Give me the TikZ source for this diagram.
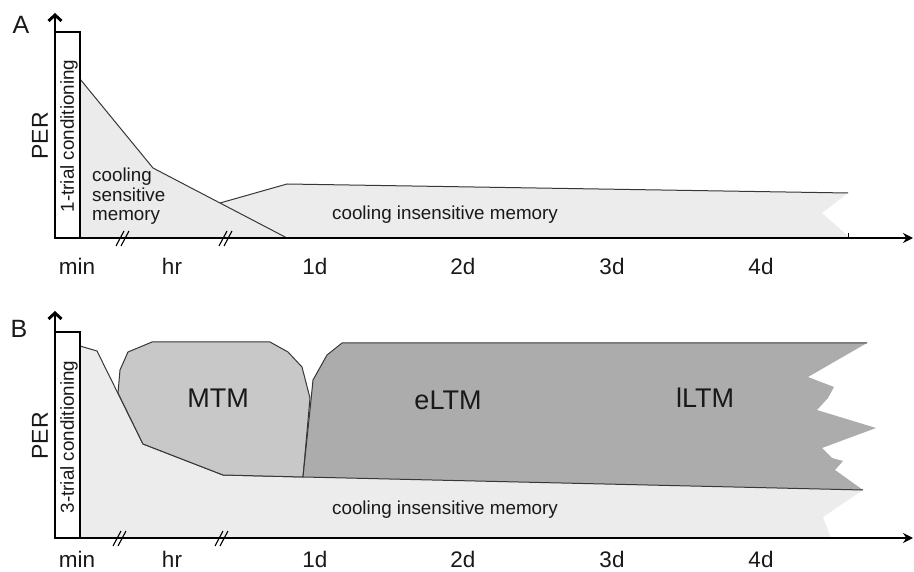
\documentclass[tikz,border=0pt]{standalone}
\usepackage{fontspec}
\setmainfont{Liberation Sans}
\usetikzlibrary{arrows.meta,patterns}
\definecolor{lightfill}{RGB}{236,236,236}
\definecolor{mtmfill}{RGB}{200,200,200}
\definecolor{ltmfill}{RGB}{172,172,172}
\definecolor{edgecol}{RGB}{55,55,55}
\definecolor{txtcol}{RGB}{25,25,25}
\begin{document}
\begin{tikzpicture}[x=1pt,y=-1pt,
  edge/.style={draw=edgecol,line width=1pt,line join=round},
  axisline/.style={line width=2.9pt,draw=black},
  condbox/.style={draw=black,line width=2.3pt,fill=white},
  lbl/.style={text=txtcol,font=\fontsize{18.8}{21}\selectfont,inner sep=0pt},
  ticklbl/.style={text=txtcol,font=\fontsize{22.5}{24}\selectfont,inner sep=0pt},
  biglbl/.style={text=txtcol,font=\fontsize{27}{29}\selectfont,inner sep=0pt},
  perlbl/.style={text=txtcol,font=\fontsize{23}{25}\selectfont,inner sep=0pt,rotate=90},
  panellbl/.style={text=txtcol,font=\fontsize{25}{27}\selectfont,inner sep=0pt},
  brk/.style={line width=1.1pt,draw=black}
]
\useasboundingbox (0,0) rectangle (914,572);

% ================= Panel A =================
% cooling insensitive memory
\fill[lightfill] (220,203) -- (287,184) -- (848,193) -- (822,213) -- (848,236) -- (848,238) -- (287,238) -- cycle;
\draw[edge] (220,203) -- (287,184) -- (848,193);
% cooling sensitive memory
\fill[lightfill] (80,79) -- (153,168) -- (220,203) -- (287,238) -- (80,238) -- cycle;
\fill[pattern=north east lines,pattern color=black!8] (80,79) -- (153,168) -- (220,203) -- (287,238) -- (80,238) -- cycle;
\draw[edge] (80,79) -- (153,168) -- (220,203) -- (287,238);

% axes
\coordinate (ax0) at (54,238);
\coordinate (axX) at (913,238);
\coordinate (axY) at (55,13);
\draw[axisline,-{Stealth[length=10pt,width=10pt]}] (ax0) -- (axX);
\draw[axisline,-{Straight Barb[length=6pt,width=13pt]}] (55,239) -- (axY);
\draw[line width=0.6pt] (848,238) -- (848,233);
\draw[condbox] (55,32) rectangle (80,238);
% breaks
\draw[brk] (116,246) -- (124,231);
\draw[brk] (121,246) -- (129,231);
\draw[brk] (219,246) -- (227,231);
\draw[brk] (224,246) -- (232,231);

\node[lbl,rotate=90] (condA) at (69,136) {1-trial conditioning};
\node[perlbl] (perA) at (40,136) {PER};
\node[panellbl] (labA) at (21,25) {A};
\node[lbl,align=left,anchor=north west] (sensA) at (92,168) {cooling\\[-1.5pt]sensitive\\[-1.5pt]memory};
\node[lbl] (insA) at (445,215) {cooling insensitive memory};

\node[ticklbl] (minA) at (77,266) {min};
\node[ticklbl] (hrA) at (172,266) {hr};
\node[ticklbl] (d1A) at (315,266) {1d};
\node[ticklbl] (d2A) at (463,266) {2d};
\node[ticklbl] (d3A) at (612,266) {3d};
\node[ticklbl] (d4A) at (761,266) {4d};

% ================= Panel B =================
% cooling insensitive (light)
\fill[lightfill] (80,346) -- (97,351) -- (143,444) -- (223,475) -- (303,477) -- (863,490) -- (823,517) -- (831,538) -- (80,538) -- cycle;
\draw[edge] (80,346) -- (97,351) -- (143,444) -- (223,475) -- (303,477);
% MTM
\filldraw[edge,fill=mtmfill] (118,393) -- (120,370) -- (128,352) -- (152,342) -- (270,342) -- (288,352) -- (302,367) -- (310,398) -- (303,477) -- (223,475) -- (143,444) -- cycle;
% eLTM / lLTM
\fill[ltmfill] (303,477) -- (311,400) -- (313,380) -- (327,355) -- (342,343) -- (867,343) -- (808,377) -- (834,387) -- (828,398) -- (817,410) -- (876,428) -- (822,448) -- (832,458) -- (843,461) -- (835,470) -- (863,490) -- cycle;
\draw[edge] (303,477) -- (311,400) -- (313,380) -- (327,355) -- (342,343) -- (867,343);
\draw[edge] (303,477) -- (863,490);

% axes
\coordinate (bx0) at (54,538);
\coordinate (bxX) at (913,538);
\coordinate (bxY) at (55,311);
\draw[axisline,-{Stealth[length=10pt,width=10pt]}] (bx0) -- (bxX);
\draw[axisline,-{Straight Barb[length=6pt,width=13pt]}] (55,539) -- (bxY);
\draw[condbox] (55,332) rectangle (80,538);
% breaks
\draw[brk] (113,546) -- (121,531);
\draw[brk] (118,546) -- (126,531);
\draw[brk] (215,546) -- (223,531);
\draw[brk] (220,546) -- (228,531);

\node[lbl,rotate=90] (condB) at (69,437) {3-trial conditioning};
\node[perlbl] (perB) at (40,436) {PER};
\node[panellbl] (labB) at (19,329) {B};
\node[biglbl] (mtm) at (218,398) {MTM};
\node[biglbl] (eltm) at (448,400) {eLTM};
\node[biglbl] (lltm) at (705,398) {lLTM};
\node[lbl] (insB) at (445,510) {cooling insensitive memory};

\node[ticklbl] (minB) at (77,559) {min};
\node[ticklbl] (hrB) at (172,559) {hr};
\node[ticklbl] (d1B) at (315,559) {1d};
\node[ticklbl] (d2B) at (463,559) {2d};
\node[ticklbl] (d3B) at (612,559) {3d};
\node[ticklbl] (d4B) at (761,559) {4d};
\end{tikzpicture}
\end{document}
